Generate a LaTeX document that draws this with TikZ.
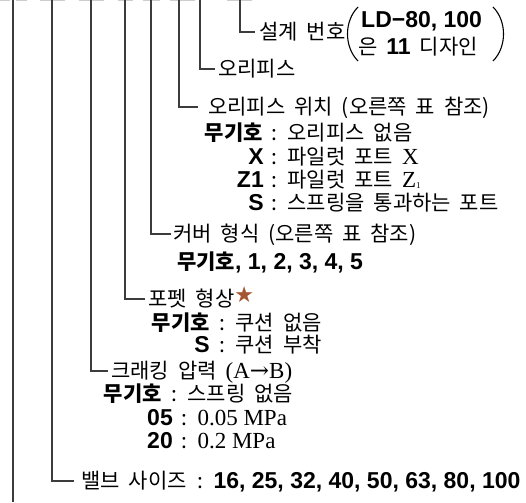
\documentclass[tikz,border=0pt]{standalone}
\usepackage{fontspec}
\setmainfont{Liberation Serif}
\newfontfamily\kr{Noto Sans CJK KR}[WordSpace=1.9]
\newfontfamily\hv{Liberation Sans}
\newfontfamily\djs{DejaVu Serif}
\newfontfamily\djv{DejaVu Sans}
\definecolor{starbrown}{RGB}{165,85,50}
\definecolor{linegray}{RGB}{60,60,60}
\definecolor{faint}{RGB}{205,205,205}
\newcommand{\krsz}{\kr\fontsize{21}{25}\selectfont}
\newcommand{\hvb}{\hv\bfseries\fontsize{23}{25}\selectfont}
\newcommand{\rmsz}{\rmfamily\fontsize{23}{25}\selectfont}
\begin{document}
\begin{tikzpicture}[x=1pt,y=-1pt,
  conn/.style={draw=linegray, line width=1.1pt},
  topmark/.style={draw=faint, line width=1.2pt},
  paren/.style={draw=black, line width=1.1pt},
  lbl/.style={inner sep=0pt, text height=18pt, text depth=3pt, anchor=west, font=\krsz},
  key/.style={inner sep=0pt, text height=18pt, text depth=3pt, anchor=east, font=\hvb},
  keyk/.style={inner sep=0pt, text height=18pt, text depth=3pt, anchor=east, font=\krsz\bfseries}
]
\useasboundingbox (0,0) rectangle (526,502);

% faint remnants at the top
\foreach \a/\b in {0/10,16/27,40/65,79/104,118/133,143/160,170/195,227/252}
  \draw[topmark] (\a,0.6) -- (\b,0.6);

% top ends of the vertical lines
\coordinate (t1) at (240,0);
\coordinate (t2) at (200,0);
\coordinate (t3) at (179,0);
\coordinate (t4) at (151,0);
\coordinate (t5) at (125,0);
\coordinate (t6) at (91,0);
\coordinate (t7) at (52,0);
\coordinate (t8) at (13,0);
\coordinate (b8) at (13,502);

% 1: design number
\node[lbl] (n1) at (259,32) {설계 번호};
\node[inner sep=0pt, anchor=west, font=\hv\bfseries\fontsize{23}{25}\selectfont, text height=17pt, text depth=2pt] (ld) at (361,20) {LD−80, 100};
\node[lbl] (n1b) at (358,47) {은 {\hvb 11} 디자인};
\draw[paren] (358,7) .. controls (344,21) and (344,47) .. (358,61);
\draw[paren] (493,7) .. controls (507,21) and (507,47) .. (493,61);

% 2: orifice
\node[lbl] (n2) at (218,69) {오리피스};

% 3: orifice position
\node[lbl] (n3) at (208,107) {오리피스 위치 (오른쪽 표 참조)};
\node[keyk] (k3a) at (263,133) {무기호};
\node[lbl] (r3a) at (271,133) {: 오리피스 없음};
\node[key] (k3b) at (264,157) {X};
\node[lbl] (r3b) at (271,157) {: 파일럿 포트 {\rmsz X}};
\node[key] (k3c) at (264,180) {Z1};
\node[lbl] (r3c) at (271,180) {: 파일럿 포트 {\rmsz Z\raisebox{-1pt}{\fontsize{9}{9}\selectfont 1}}};
\node[key] (k3d) at (264,203) {S};
\node[lbl] (r3d) at (271,203) {: 스프링을 통과하는 포트};

% 4: cover type
\node[lbl] (n4) at (173,234) {커버 형식 (오른쪽 표 참조)};
\node[lbl] (n4a) at (177,262) {{\bfseries 무기호}{\hvb , 1, 2, 3, 4, 5}};

% 5: poppet shape
\node[lbl] (n5) at (148,299) {포펫 형상{\djv\color{starbrown}\fontsize{22}{22}\selectfont\raisebox{4pt}{★}}};
\node[keyk] (k5a) at (210,323) {무기호};
\node[lbl] (r5a) at (219,323) {: 쿠션 없음};
\node[key] (k5b) at (210,345) {S};
\node[lbl] (r5b) at (219,345) {: 쿠션 부착};

% 6: cracking pressure
\node[lbl] (n6) at (111,371) {크래킹 압력 {\rmsz (A{\djs →}B)}};
\node[keyk] (k6a) at (162,394) {무기호};
\node[lbl] (r6a) at (171,394) {: 스프링 없음};
\node[key] (k6b) at (173,418) {05};
\node[lbl] (r6b) at (181,418) {: {\rmsz 0.05 MPa}};
\node[key] (k6c) at (173,441) {20};
\node[lbl] (r6c) at (181,441) {: {\rmsz 0.2 MPa}};

% 7: valve size
\node[lbl] (n7) at (81,481) {밸브 사이즈};
\node[lbl] (r7) at (197,481) {: {\hvb 16, 25, 32, 40, 50, 63, 80, 100}};

% connectors
\draw[conn] (t1) |- ([xshift=-4pt]n1.west);
\draw[conn] (t2) |- ([xshift=-3pt]n2.west);
\draw[conn] (t3) |- ([xshift=-10pt]n3.west);
\draw[conn] (t4) |- ([xshift=-2pt]n4.west);
\draw[conn] (t5) |- ([xshift=-3pt]n5.west);
\draw[conn] (t6) |- ([xshift=-3pt]n6.west);
\draw[conn] (t7) |- ([xshift=-7pt]n7.west);
\draw[conn] (t8) -- (b8);
\end{tikzpicture}
\end{document}
